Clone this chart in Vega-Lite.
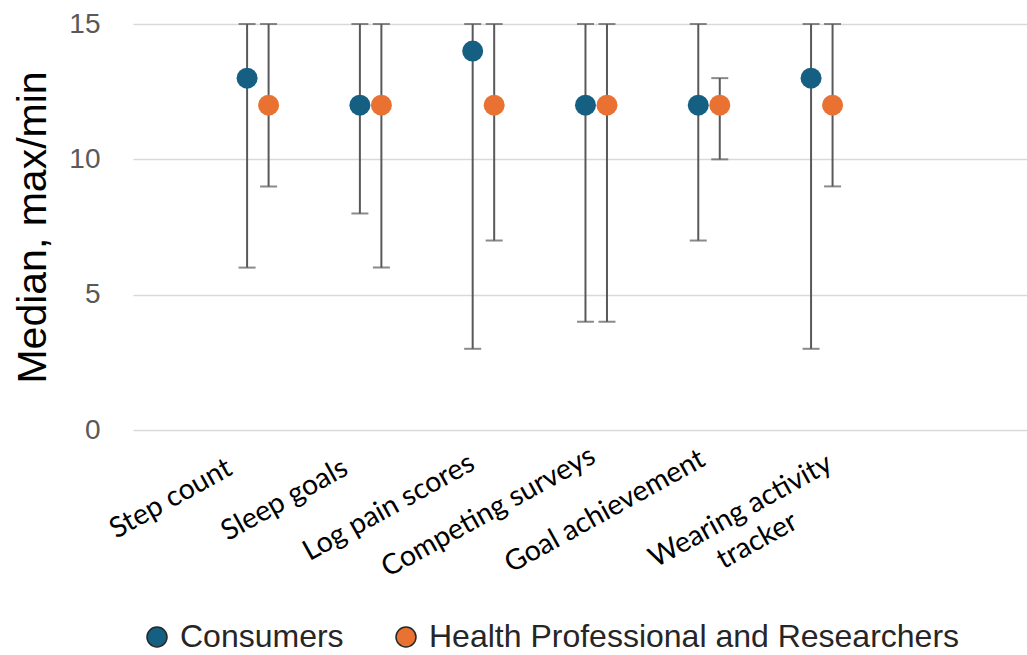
{
  "$schema": "https://vega.github.io/schema/vega-lite/v6.json",
  "autosize": "none",
  "padding": {"left": 133, "top": 24, "right": 0, "bottom": 225},
  "width": 894,
  "height": 406,
  "background": "white",
  "config": {"view": {"stroke": null}},
  "data": {"values": [
    {"activity": "Step count", "group": "Consumers", "median": 13, "max": 15, "min": 6},
    {"activity": "Step count", "group": "Health Professional and Researchers", "median": 12, "max": 15, "min": 9},
    {"activity": "Sleep goals", "group": "Consumers", "median": 12, "max": 15, "min": 8},
    {"activity": "Sleep goals", "group": "Health Professional and Researchers", "median": 12, "max": 15, "min": 6},
    {"activity": "Log pain scores", "group": "Consumers", "median": 14, "max": 15, "min": 3},
    {"activity": "Log pain scores", "group": "Health Professional and Researchers", "median": 12, "max": 15, "min": 7},
    {"activity": "Competing surveys", "group": "Consumers", "median": 12, "max": 15, "min": 4},
    {"activity": "Competing surveys", "group": "Health Professional and Researchers", "median": 12, "max": 15, "min": 4},
    {"activity": "Goal achievement", "group": "Consumers", "median": 12, "max": 15, "min": 7},
    {"activity": "Goal achievement", "group": "Health Professional and Researchers", "median": 12, "max": 13, "min": 10},
    {"activity": "Wearing activity tracker", "group": "Consumers", "median": 13, "max": 15, "min": 3},
    {"activity": "Wearing activity tracker", "group": "Health Professional and Researchers", "median": 12, "max": 15, "min": 9}
  ]},
  "encoding": {
    "x": {
      "field": "activity", "type": "nominal", "sort": null,
      "scale": {"paddingInner": 0, "paddingOuter": 0.963, "align": 0.3146},
      "axis": {
        "title": null, "domain": false, "ticks": false, "grid": false,
        "labelAngle": -29, "labelBaseline": "top",
        "labelAlign": {"condition": {"test": "datum.value == 'Wearing activity tracker'", "value": "center"}, "value": "right"},
        "labelFont": "Lato", "labelFontSize": 28.5, "labelColor": "#000000",
        "labelPadding": {"condition": [
          {"test": "datum.value == 'Step count'", "value": 23},
          {"test": "datum.value == 'Sleep goals'", "value": 23},
          {"test": "datum.value == 'Log pain scores'", "value": 18},
          {"test": "datum.value == 'Competing surveys'", "value": 11},
          {"test": "datum.value == 'Goal achievement'", "value": 14}
        ], "value": 68},
        "labelOffset": {"condition": [
          {"test": "datum.value == 'Step count'", "value": -35},
          {"test": "datum.value == 'Sleep goals'", "value": -32},
          {"test": "datum.value == 'Log pain scores'", "value": -18},
          {"test": "datum.value == 'Competing surveys'", "value": -10},
          {"test": "datum.value == 'Goal achievement'", "value": -13}
        ], "value": -88},
        "labelLineHeight": 34, "labelLimit": 0,
        "labelExpr": "datum.label == 'Wearing activity tracker' ? ['Wearing activity', 'tracker'] : datum.label"
      }
    },
    "xOffset": {
      "field": "group", "type": "nominal", "sort": null,
      "scale": {"paddingInner": 0, "paddingOuter": 0, "range": [35, 78]}
    }
  },
  "layer": [
    {
      "mark": {"type": "rule", "color": "#595959", "strokeWidth": 2},
      "encoding": {
        "y": {"field": "min", "type": "quantitative",
          "scale": {"domain": [0, 15], "nice": false},
          "axis": {
            "title": "Median, max/min", "titleFont": "Liberation Sans", "titleFontSize": 41,
            "titleFontWeight": "normal", "titleColor": "#000000", "titlePadding": 14,
            "values": [0, 5, 10, 15], "domain": false, "ticks": false, "tickSize": 0,
            "labelFont": "Liberation Sans", "labelFontSize": 28, "labelColor": "#595959",
            "labelPadding": 33, "gridColor": "#d9d9d9", "gridWidth": 1.5
          }},
        "y2": {"field": "max"}
      }
    },
    {
      "mark": {"type": "tick", "color": "#595959", "thickness": 2, "size": 17, "orient": "horizontal"},
      "encoding": {"y": {"field": "max", "type": "quantitative"}}
    },
    {
      "mark": {"type": "tick", "color": "#595959", "thickness": 2, "size": 17, "orient": "horizontal"},
      "encoding": {"y": {"field": "min", "type": "quantitative"}}
    },
    {
      "mark": {"type": "point", "shape": "circle", "filled": true, "opacity": 1, "size": 441},
      "encoding": {
        "y": {"field": "median", "type": "quantitative"},
        "color": {
          "field": "group", "type": "nominal", "sort": null,
          "scale": {"domain": ["Consumers", "Health Professional and Researchers"], "range": ["#156082", "#E97132"]},
          "legend": {
            "title": null, "orient": "none", "direction": "horizontal",
            "legendX": 8, "legendY": 597, "padding": 0,
            "symbolType": "circle", "symbolSize": 400, "symbolStrokeColor": "#262626", "symbolStrokeWidth": 1.5,
            "symbolOpacity": 1,
            "labelFont": "Liberation Sans", "labelFontSize": 32, "labelColor": "#262626",
            "labelOffset": 7, "columnPadding": 46, "labelLimit": 0
          }
        }
      }
    }
  ]
}
